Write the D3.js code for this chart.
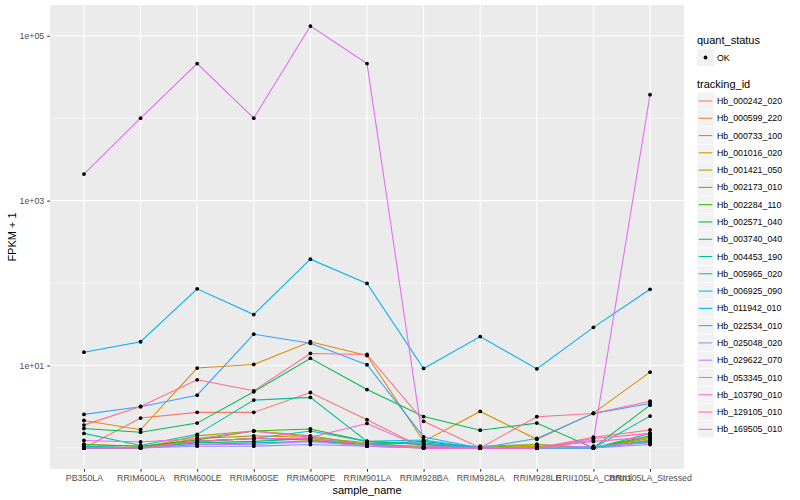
<!DOCTYPE html>
<html>
<head>
<meta charset="utf-8">
<script src="https://cdn.jsdelivr.net/npm/d3@7"></script>
<style>
  body { margin: 0; background: #fff; }
  text { font-family: "Liberation Sans", Arial, sans-serif; }
</style>
</head>
<body>
<div id="chart"></div>
<script>
// Samples on the x axis
const samples = ["PB350LA", "RRIM600LA", "RRIM600LE", "RRIM600SE", "RRIM600PE", "RRIM901LA",
    "RRIM928BA", "RRIM928LA", "RRIM928LE", "RRII105LA_Control", "RRII105LA_Stressed"];

// Gene ids (legend order)
const trackingIds = ["Hb_000242_020", "Hb_000599_220", "Hb_000733_100", "Hb_001016_020", "Hb_001421_050",
    "Hb_002173_010", "Hb_002284_110", "Hb_002571_040", "Hb_003740_040", "Hb_004453_190",
    "Hb_005965_020", "Hb_006925_090", "Hb_011942_010", "Hb_022534_010", "Hb_025048_020",
    "Hb_029622_070", "Hb_053345_010", "Hb_103790_010", "Hb_129105_010", "Hb_169505_010"];

// FPKM + 1 per gene, one value per sample
const fpkm = [
    [1.0, 2.3, 2.7, 2.7, 4.7, 2.2, 1.0, 1.0, 1.0, 1.35, 1.65],
    [1.1, 1.05, 1.2, 1.3, 1.25, 1.1, 1.0, 1.0, 1.0, 1.0, 1.2],
    [2.15, 1.66, 9.3, 10.3, 19.4, 13.2, 1.2, 2.77, 1.27, 2.64, 8.3],
    [1.0, 1.0, 1.3, 1.4, 1.35, 1.15, 1.0, 1.0, 1.05, 1.0, 1.25],
    [1.05, 1.0, 1.4, 1.6, 1.4, 1.1, 1.05, 1.05, 1.1, 1.0, 1.3],
    [1.0, 1.0, 1.2, 1.3, 1.25, 1.05, 1.0, 1.0, 1.1, 1.0, 1.35],
    [1.1, 1.05, 1.25, 1.6, 1.7, 1.2, 1.1, 1.0, 1.0, 1.0, 1.4],
    [1.72, 1.55, 2.0, 4.8, 12.2, 5.1, 2.4, 1.64, 2.0, 1.0, 3.3],
    [1.0, 1.0, 1.15, 1.2, 1.3, 1.1, 1.2, 1.0, 1.0, 1.0, 1.5],
    [1.5, 1.07, 1.46, 3.8, 4.1, 1.2, 1.1, 1.0, 1.0, 1.0, 2.43],
    [1.0, 1.0, 1.1, 1.15, 1.2, 1.1, 1.15, 1.0, 1.0, 1.0, 1.2],
    [1.05, 1.0, 1.2, 1.3, 1.6, 1.2, 1.25, 1.0, 1.0, 1.0, 1.2],
    [14.5, 19.4, 85, 41.5, 195, 99, 9.2, 22.4, 9.1, 29, 84],
    [2.55, 3.16, 4.36, 24, 18.6, 10.2, 1.36, 1.0, 1.3, 2.62, 3.46],
    [1.0, 1.0, 1.05, 1.05, 1.1, 1.05, 1.0, 1.0, 1.0, 1.0, 1.1],
    [1.0, 1.0, 1.1, 1.1, 1.2, 1.05, 1.0, 1.0, 1.0, 1.05, 1.15],
    [2100, 10000, 46000, 10000, 131000, 46000, 1.05, 1.0, 1.0, 1.25, 19300],
    [1.23, 1.18, 1.3, 1.6, 1.35, 1.98, 1.0, 1.0, 1.0, 1.2, 1.35],
    [1.0, 1.0, 1.2, 1.3, 1.3, 1.1, 1.0, 1.0, 1.0, 1.3, 1.5],
    [1.89, 3.18, 6.7, 4.93, 14.0, 13.6, 2.1, 1.0, 2.39, 2.62, 3.69]
];

// ggplot default hue palette for 20 levels
const palette = ["#F8766D", "#EA8331", "#D89000", "#C09B00", "#A3A500", "#7CAE00", "#39B600",
    "#00BB4E", "#00BF7D", "#00C1A3", "#00BFC4", "#00BAE0", "#00B0F6", "#35A2FF", "#9590FF",
    "#C77CFF", "#E76BF3", "#FA62DB", "#FF62BC", "#FF6C91"];

const yMajor = [1e1, 1e3, 1e5];
const yMinor = [1e0, 1e2, 1e4];

const W = 800, H = 500;
const margin = { top: 5, left: 50, bottom: 31, right: 116 };
const width = W - margin.left - margin.right;
const height = H - margin.top - margin.bottom;

const svg = d3.select("#chart").append("svg")
    .attr("width", W).attr("height", H);

svg.append("rect").attr("width", W).attr("height", H).attr("fill", "#fff");

const g = svg.append("g")
    .attr("transform", `translate(${margin.left}, ${margin.top})`);

/* Scales */
const x = d3.scalePoint().domain(samples).range([0, width]).padding(0.6);

// log scale expanded 5% in log space, like ggplot
const all = d3.merge(fpkm);
const lo = Math.log10(d3.min(all)), hi = Math.log10(d3.max(all));
const pad = (hi - lo) * 0.05;
const y = d3.scaleLog().domain([10 ** (lo - pad), 10 ** (hi + pad)]).range([height, 0]);

const color = d3.scaleOrdinal().domain(trackingIds).range(palette);

/* Panel */
g.append("rect").attr("width", width).attr("height", height).attr("fill", "#EBEBEB");

g.selectAll(".minor").data(yMinor).enter().append("line")
    .attr("x1", 0).attr("x2", width)
    .attr("y1", d => y(d)).attr("y2", d => y(d))
    .attr("stroke", "#fff").attr("stroke-width", 0.55);

g.selectAll(".majorY").data(yMajor).enter().append("line")
    .attr("x1", 0).attr("x2", width)
    .attr("y1", d => y(d)).attr("y2", d => y(d))
    .attr("stroke", "#fff").attr("stroke-width", 1.1);

g.selectAll(".majorX").data(samples).enter().append("line")
    .attr("y1", 0).attr("y2", height)
    .attr("x1", d => x(d)).attr("x2", d => x(d))
    .attr("stroke", "#fff").attr("stroke-width", 1.1);

/* Axes */
const yAxis = d3.axisLeft(y).tickValues(yMajor).tickSize(2.75).tickPadding(3)
    .tickFormat(d => d3.format(".0e")(d).replace(/e\+(\d)$/, "e+0$1").replace(/e-(\d)$/, "e-0$1"));
const xAxis = d3.axisBottom(x).tickSize(2.75).tickPadding(3);

const ya = g.append("g").call(yAxis);
const xa = g.append("g").attr("transform", `translate(0, ${height})`).call(xAxis);
[ya, xa].forEach(a => {
    a.select(".domain").remove();
    a.selectAll("line").attr("stroke", "#333").attr("stroke-width", 1);
    a.selectAll("text").attr("fill", "#4D4D4D").attr("font-size", "8.8px")
        .style("font-family", "'Liberation Sans', Arial, sans-serif");
});

svg.append("text")
    .attr("x", margin.left + width / 2).attr("y", 494)
    .attr("text-anchor", "middle").attr("font-size", "11px").attr("fill", "#000")
    .text("sample_name");

svg.append("text")
    .attr("transform", `translate(16, ${margin.top + height / 2}) rotate(-90)`)
    .attr("text-anchor", "middle").attr("font-size", "11px").attr("fill", "#000")
    .text("FPKM + 1");

/* Lines and points */
const line = d3.line()
    .x((d, i) => x(samples[i]))
    .y(d => y(d));

const main = g.append("g");
fpkm.forEach((vals, k) => {
    main.append("path")
        .datum(vals)
        .attr("d", line)
        .attr("fill", "none")
        .attr("stroke", color(trackingIds[k]))
        .attr("stroke-width", 1.07);
});
fpkm.forEach(vals => {
    main.selectAll(null).data(vals).enter().append("circle")
        .attr("cx", (d, i) => x(samples[i]))
        .attr("cy", d => y(d))
        .attr("r", 1.9)
        .attr("fill", "#000");
});

/* Legend */
const lx = 697;
const leg = svg.append("g");
leg.append("text").attr("x", lx).attr("y", 44).attr("font-size", "11px").text("quant_status");
leg.append("rect").attr("x", lx).attr("y", 49).attr("width", 17).attr("height", 17).attr("fill", "#F2F2F2");
leg.append("circle").attr("cx", lx + 8.5).attr("cy", 57.5).attr("r", 1.9).attr("fill", "#000");
leg.append("text").attr("x", lx + 20).attr("y", 60.5).attr("font-size", "8.8px").text("OK");

leg.append("text").attr("x", lx).attr("y", 88).attr("font-size", "11px").text("tracking_id");

const keyH = 17.28, keyTop = 92.5;
const items = leg.selectAll(".item").data(trackingIds).enter().append("g")
    .attr("transform", (d, i) => `translate(${lx}, ${keyTop + i * keyH})`);
items.append("rect").attr("width", 17).attr("height", 17).attr("fill", "#F2F2F2")
    .attr("stroke", "#fff").attr("stroke-width", 0.5);
items.append("line").attr("x1", 1.7).attr("x2", 15.3).attr("y1", 8.5).attr("y2", 8.5)
    .attr("stroke", d => color(d)).attr("stroke-width", 1.07);
items.append("text").attr("x", 20).attr("y", 11.6).attr("font-size", "8.8px").text(d => d);
</script>
</body>
</html>
